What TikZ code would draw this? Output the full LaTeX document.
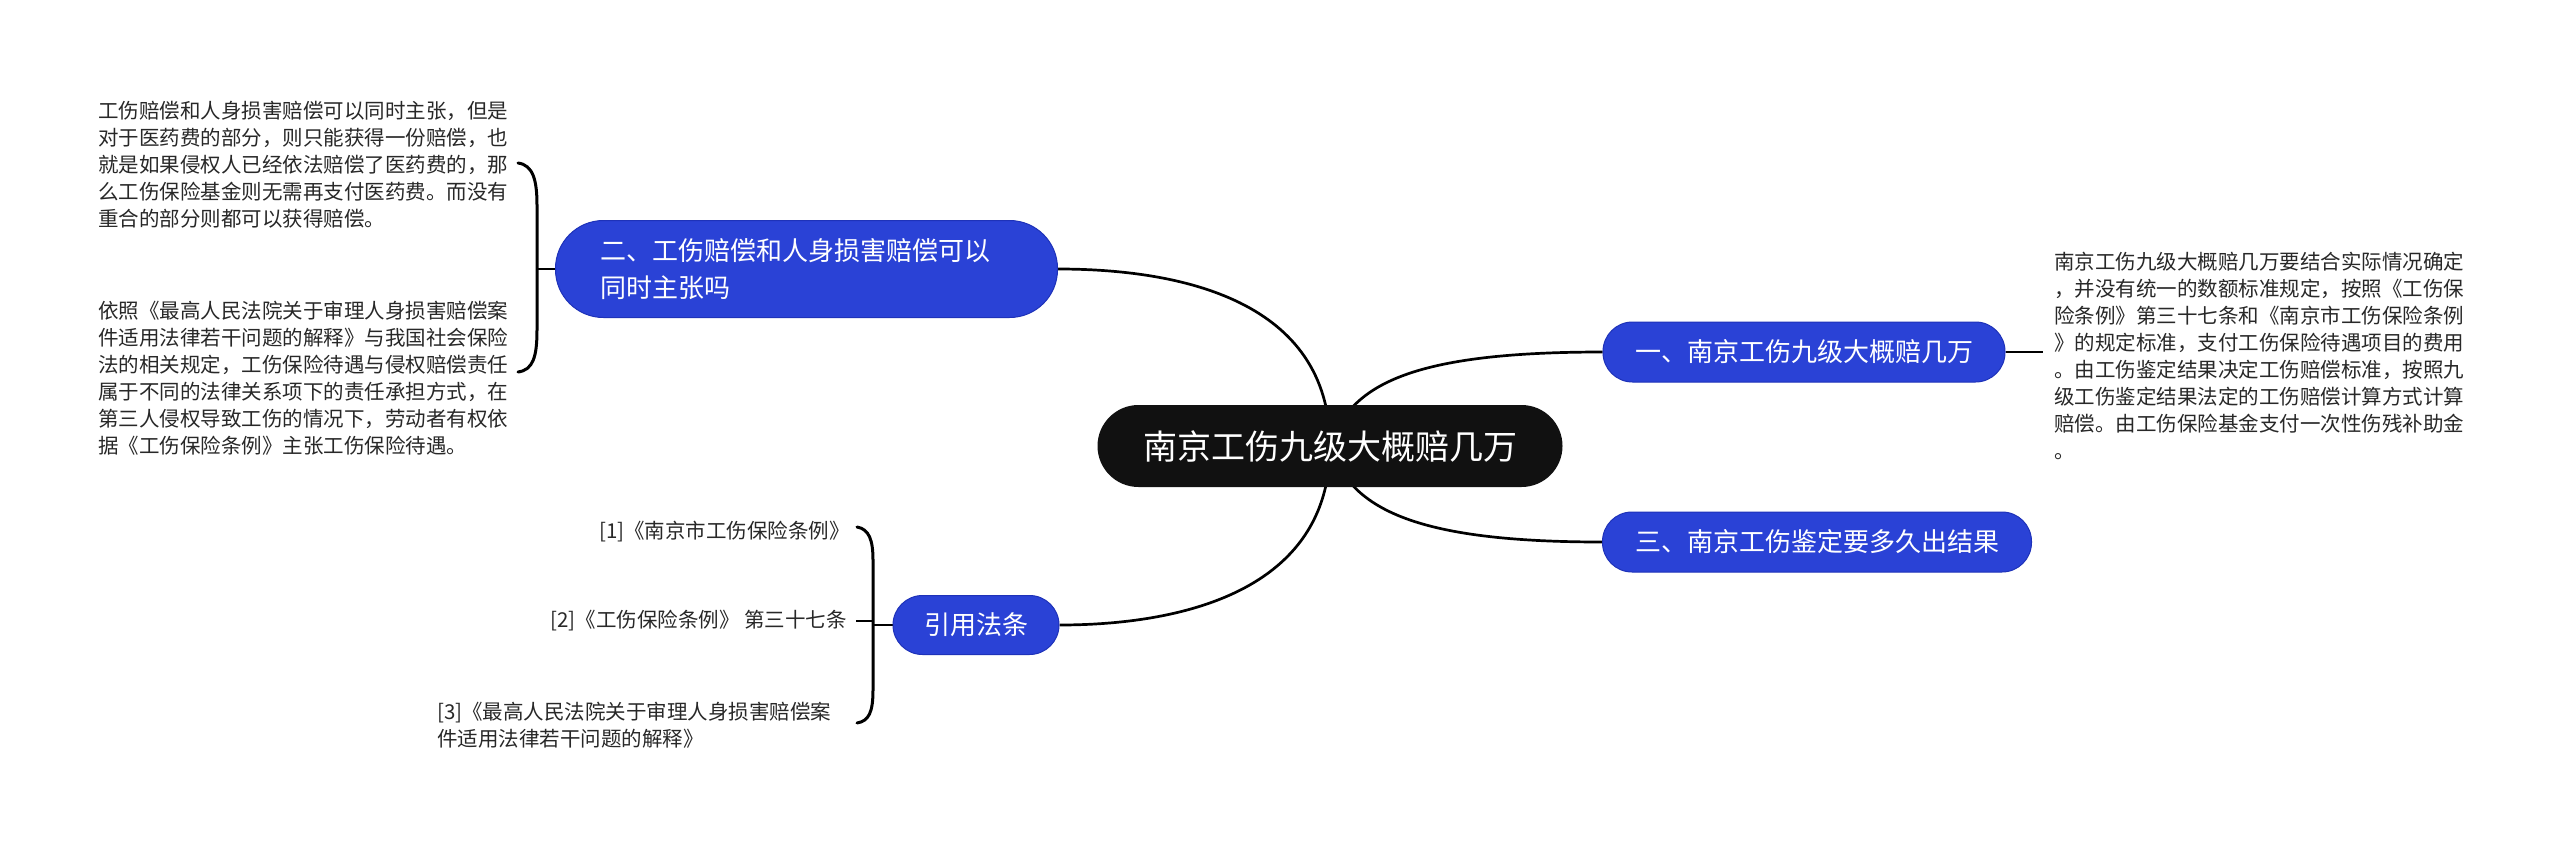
\documentclass[tikz,border=0pt]{standalone}
\usepackage{fontspec}
\setmainfont{Noto Sans CJK SC}
\pgfdeclarelayer{bg}
\pgfdeclarelayer{conn}
\pgfsetlayers{bg,conn,main}
\definecolor{nodeblue}{RGB}{42,66,214}
\definecolor{nodeblueedge}{RGB}{30,50,185}
\definecolor{leaftext}{RGB}{40,40,40}
\definecolor{rootfill}{RGB}{17,17,17}
\tikzset{
  rootbox/.style={fill=rootfill, text=white, rounded corners=41pt, minimum width=465pt, minimum height=82pt, inner sep=0pt, font=\fontsize{34}{40}\selectfont},
  topicbox/.style={fill=nodeblue, draw=nodeblueedge, line width=1pt, text=white, rounded corners=29.5pt, minimum height=60pt, inner sep=0pt, font=\fontsize{26}{32}\selectfont},
  leaftxt/.style={text=leaftext, inner sep=0pt, align=left, font=\fontsize{20.5}{27}\selectfont},
  link/.style={draw=black, line width=2.7pt},
  bracebar/.style={draw=black, line width=3pt, line cap=round},
}
\begin{document}
\begin{tikzpicture}[x=1pt, y=-1pt]
\useasboundingbox (0,0) rectangle (2560,847);
\begin{pgfonlayer}{bg}
  \fill[white] (0,0) rectangle (2560,847);
\end{pgfonlayer}

% main nodes
\node[rootbox] (root) at (1330,446) {南京工伤九级大概赔几万};
\node[topicbox, minimum width=402pt] (n1) at (1804,352) {一、南京工伤九级大概赔几万};
\node[topicbox, minimum width=429pt] (n3) at (1817,542) {三、南京工伤鉴定要多久出结果};
\node[topicbox, rounded corners=48pt, minimum height=97pt, inner xsep=45pt, text width=412pt, align=left, font=\fontsize{26}{37}\selectfont] (n2) at (806.5,269) {二、工伤赔偿和人身损害赔偿可以\\同时主张吗};
\node[topicbox, minimum width=166pt, minimum height=59pt] (n4) at (976,625) {引用法条};

% leaf texts
\node[leaftxt, anchor=west] (t1) at (2054,356) {南京工伤九级大概赔几万要结合实际情况确定\\，并没有统一的数额标准规定，按照《工伤保\\险条例》第三十七条和《南京市工伤保险条例\\》的规定标准，支付工伤保险待遇项目的费用\\。由工伤鉴定结果决定工伤赔偿标准，按照九\\级工伤鉴定结果法定的工伤赔偿计算方式计算\\赔偿。由工伤保险基金支付一次性伤残补助金\\。};
\node[leaftxt, anchor=west] (t2a) at (98,164.5) {工伤赔偿和人身损害赔偿可以同时主张，但是\\对于医药费的部分，则只能获得一份赔偿，也\\就是如果侵权人已经依法赔偿了医药费的，那\\么工伤保险基金则无需再支付医药费。而没有\\重合的部分则都可以获得赔偿。};
\node[leaftxt, anchor=west] (t2b) at (98,378) {依照《最高人民法院关于审理人身损害赔偿案\\件适用法律若干问题的解释》与我国社会保险\\法的相关规定，工伤保险待遇与侵权赔偿责任\\属于不同的法律关系项下的责任承担方式，在\\第三人侵权导致工伤的情况下，劳动者有权依\\据《工伤保险条例》主张工伤保险待遇。};
\node[leaftxt, anchor=east] (c1) at (850,532) {[1]《南京市工伤保险条例》};
\node[leaftxt, anchor=east] (c2) at (847,621) {[2]《工伤保险条例》 第三十七条};
\node[leaftxt, anchor=west] (c3) at (437,725.5) {[3]《最高人民法院关于审理人身损害赔偿案\\件适用法律若干问题的解释》};

% brace coordinates
\coordinate (lbTop) at (518,163);
\coordinate (lbBot) at (518,372);
\coordinate (lbMid) at (537,269);
\coordinate (cbTop) at (857,527);
\coordinate (cbBot) at (857,723);
\coordinate (cbMid) at (873,625);
\coordinate (cbIn) at (856,621);
\coordinate (cbInEnd) at (873,621);
\coordinate (t1In) at (2043,352);

\begin{pgfonlayer}{conn}
  \draw[link] (root.center) .. controls (1330,300) and (1180,269) .. (n2.east);
  \draw[link] (root.center) .. controls (1350,385) and (1410,352) .. (n1.west);
  \draw[link] (root.center) .. controls (1350,507) and (1410,542) .. (n3.west);
  \draw[link] (root.center) .. controls (1330,592) and (1180,625) .. (n4.east);
  \draw[link] (n1.east) -- (t1In);
  \draw[bracebar] (lbTop) .. controls (533,165) and (537,180) .. (537,205) -- (537,330) .. controls (537,357) and (533,370) .. (lbBot);
  \draw[link] (lbMid) -- (n2.west);
  \draw[bracebar] (cbTop) .. controls (869,529) and (873,540) .. (873,560) -- (873,690) .. controls (873,712) and (869,721) .. (cbBot);
  \draw[link] (cbIn) -- (cbInEnd);
  \draw[link] (cbMid) -- (n4.west);
\end{pgfonlayer}
\end{tikzpicture}
\end{document}
